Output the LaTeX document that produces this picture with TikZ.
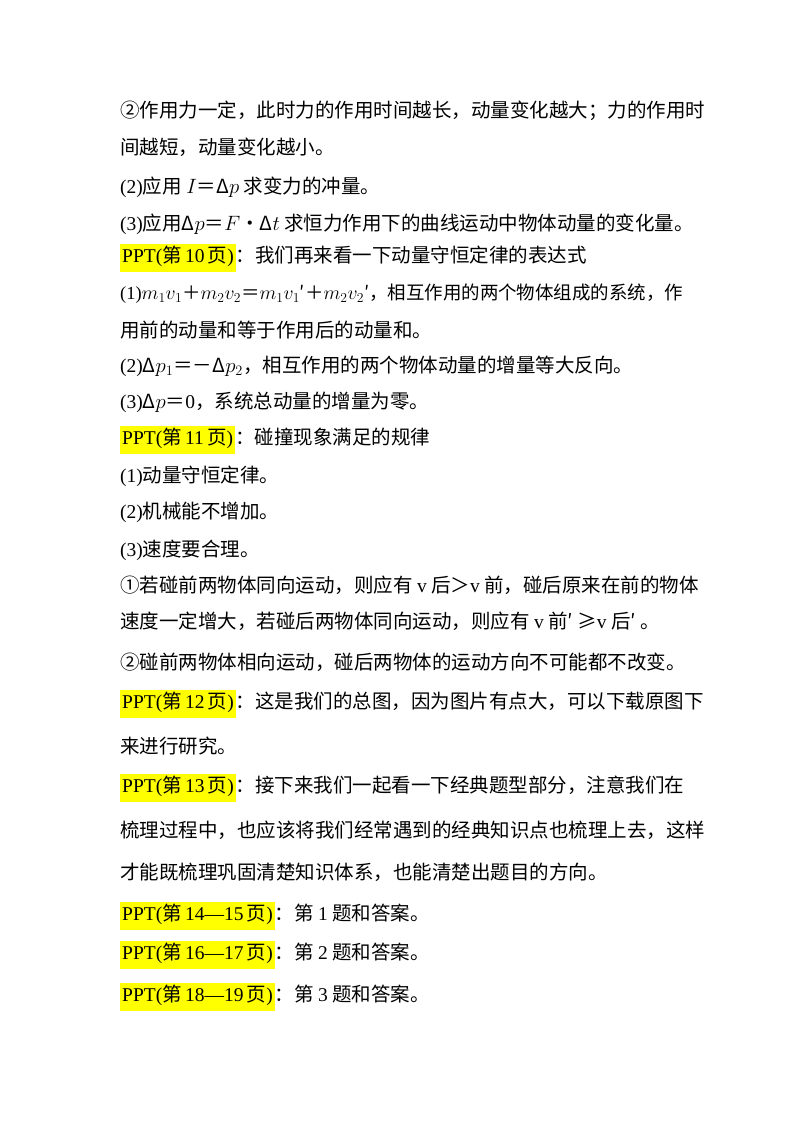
\documentclass[tikz,border=0pt]{standalone}
\usepackage{fontspec}
\usepackage{graphicx}
\setmainfont{Noto Sans CJK SC}
\newfontfamily\ser{Liberation Serif}
\definecolor{hl}{RGB}{255,255,0}
\newcommand{\ppt}[1]{{\setlength{\fboxsep}{2pt}\colorbox{hl}{\strut{\ser PPT(}第{\ser\,#1\,}页{\ser )}}}}
\begin{document}
\begin{tikzpicture}[x=1pt,y=-1pt,
  ln/.style={anchor=west,inner sep=0pt,font=\fontsize{19.5}{22}\selectfont}]
\useasboundingbox (0,0) rectangle (800,1132);
\node[ln] (l1) at (120,111) {②作用力一定，此时力的作用时间越长，动量变化越大；力的作用时};
\node[ln] (l2) at (120,147) {间越短，动量变化越小。};
\node[ln] (l3) at (120,187) {{\ser (2)}应用 $I$＝Δ$p$ 求变力的冲量。};
\node[ln] (l4) at (120,224) {{\ser (3)}应用Δ$p$＝$F$•Δ$t$ 求恒力作用下的曲线运动中物体动量的变化量。};
\node[ln] (l5) at (120,258) {\ppt{10}：我们再来看一下动量守恒定律的表达式};
\node[ln] (l6) at (120,294) {\resizebox{563pt}{!}{{\ser (1)}$m_1v_1$＋$m_2v_2$＝$m_1v_1$′＋$m_2v_2$′，相互作用的两个物体组成的系统，作}};
\node[ln] (l7) at (120,330) {用前的动量和等于作用后的动量和。};
\node[ln] (l8) at (120,366) {{\ser (2)}Δ$p_1$＝－Δ$p_2$，相互作用的两个物体动量的增量等大反向。};
\node[ln] (l9) at (120,402) {{\ser (3)}Δ$p$＝{\ser 0}，系统总动量的增量为零。};
\node[ln] (l10) at (120,440) {\ppt{11}：碰撞现象满足的规律};
\node[ln] (l11) at (120,476) {{\ser (1)}动量守恒定律。};
\node[ln] (l12) at (120,512) {{\ser (2)}机械能不增加。};
\node[ln] (l13) at (120,550) {{\ser (3)}速度要合理。};
\node[ln] (l14) at (120,585) {①若碰前两物体同向运动，则应有 {\ser v} 后＞{\ser v} 前，碰后原来在前的物体};
\node[ln] (l15) at (120,621) {速度一定增大，若碰后两物体同向运动，则应有 {\ser v} 前′ ≥{\ser v} 后′ 。};
\node[ln] (l16) at (120,662) {②碰前两物体相向运动，碰后两物体的运动方向不可能都不改变。};
\node[ln] (l17) at (120,704) {\ppt{12}：这是我们的总图，因为图片有点大，可以下载原图下};
\node[ln] (l18) at (120,746) {来进行研究。};
\node[ln] (l19) at (120,788) {\ppt{13}：接下来我们一起看一下经典题型部分，注意我们在};
\node[ln] (l20) at (120,830) {梳理过程中，也应该将我们经常遇到的经典知识点也梳理上去，这样};
\node[ln] (l21) at (120,872) {才能既梳理巩固清楚知识体系，也能清楚出题目的方向。};
\node[ln] (l22) at (120,916) {\ppt{14—15}：第 {\ser 1} 题和答案。};
\node[ln] (l23) at (120,955) {\ppt{16—17}：第 {\ser 2} 题和答案。};
\node[ln] (l24) at (120,997) {\ppt{18—19}：第 {\ser 3} 题和答案。};
\end{tikzpicture}
\end{document}
